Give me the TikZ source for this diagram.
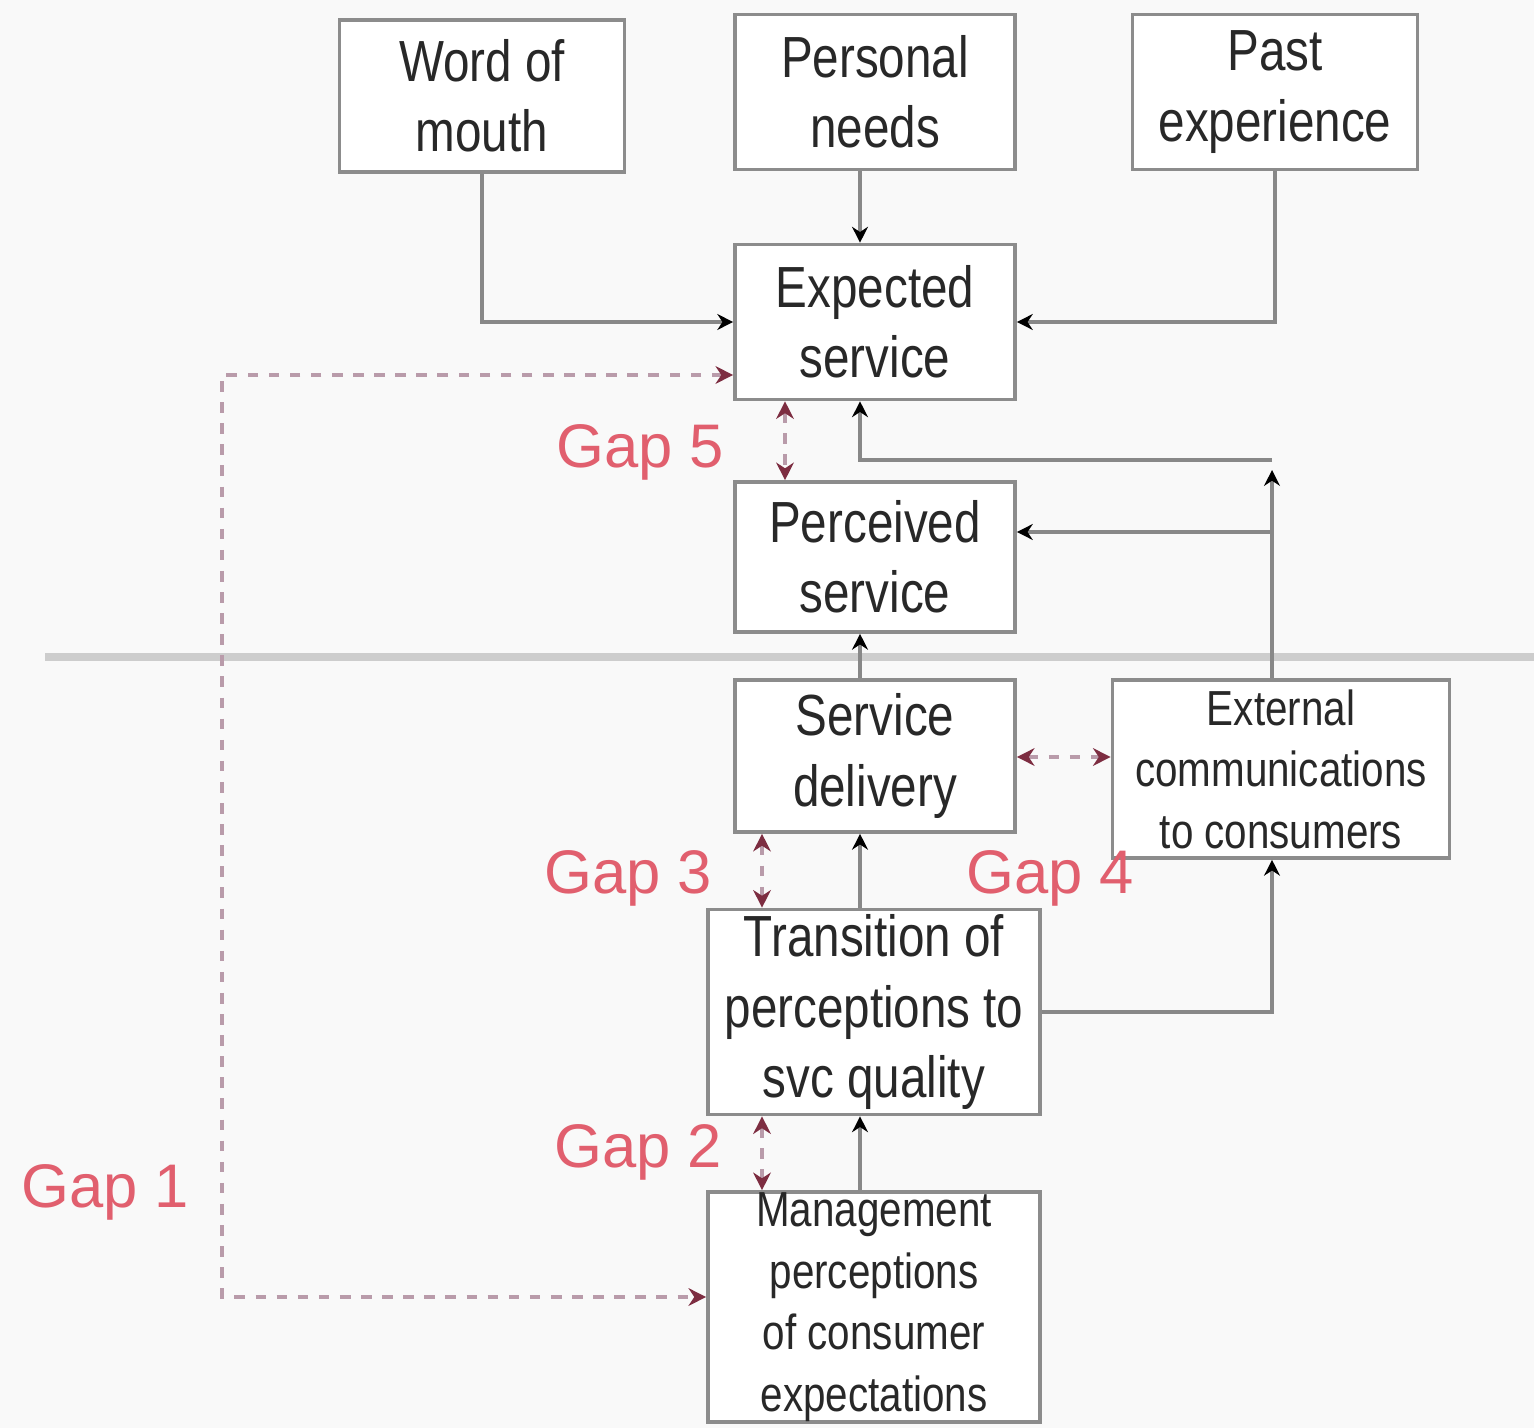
\documentclass[tikz,border=0pt]{standalone}
\usepackage{fontspec}
\setmainfont{Liberation Sans}
\newfontfamily\boxfont[FakeStretch=0.82]{Liberation Sans}
\usetikzlibrary{arrows.meta}
\definecolor{bgcol}{RGB}{249,249,249}
\definecolor{framecol}{RGB}{140,140,140}
\definecolor{linecol}{RGB}{136,136,136}
\definecolor{txtcol}{RGB}{40,40,40}
\definecolor{sepcol}{RGB}{205,205,205}
\definecolor{gapcol}{RGB}{225,95,110}
\definecolor{gapline}{RGB}{185,155,170}
\definecolor{gaptip}{RGB}{125,45,65}
\tikzset{
  box/.style={draw=framecol, line width=1pt, fill=white, align=center,
    text=txtcol, font=\boxfont\fontsize{16.5}{20}\selectfont, inner sep=0pt},
  smallbox/.style={box, font=\boxfont\fontsize{14}{17.5}\selectfont},
  conn/.style={draw=linecol, line width=1pt, -{Stealth[length=4.5pt,width=4.5pt,black]}},
  plainconn/.style={draw=linecol, line width=1pt},
  gapdash/.style={draw=gapline, line width=1pt, dash pattern=on 3pt off 3pt,
    {Stealth[length=5pt,width=5pt,gaptip]}-{Stealth[length=5pt,width=5pt,gaptip]}},
  gaplabel/.style={text=gapcol, font=\fontsize{17.5}{20}\selectfont, inner sep=0pt},
  separator/.style={draw=sepcol, line width=2.2pt}
}
\begin{document}
\begin{tikzpicture}[x=0.01cm, y=-0.01cm]
  % canvas
  \fill[bgcol] (0,0) rectangle (1534,1428);
  \useasboundingbox (0,0) rectangle (1534,1428);

  % customer / provider separator
  \draw[separator] (45,657) -- (1534,657);

  % boxes
  \node[box, minimum width=2.85cm, minimum height=1.52cm] (wom) at (482,96) {Word of\\mouth};
  \node[box, minimum width=2.80cm, minimum height=1.55cm] (pn) at (875,92) {Personal\\needs};
  \node[box, minimum width=2.85cm, minimum height=1.55cm] (pe) at (1275,92) {Past\\experience};
  \node[box, minimum width=2.80cm, minimum height=1.55cm] (es) at (875,322) {Expected\\service};
  \node[box, minimum width=2.80cm, minimum height=1.50cm] (ps) at (875,557) {Perceived\\service};
  \node[box, minimum width=2.80cm, minimum height=1.52cm] (sd) at (875,756) {Service\\delivery};
  \node[smallbox, minimum width=3.37cm, minimum height=1.78cm] (ec) at (1281,769) {External\\communications\\to consumers};
  \node[box, minimum width=3.32cm, minimum height=2.05cm] (tr) at (874,1012) {Transition of\\perceptions to\\svc quality};
  \node[smallbox, minimum width=3.32cm, minimum height=2.30cm] (mp) at (874,1307) {Management\\perceptions\\of consumer\\expectations};

  % helper coordinates for connector columns and rows
  \coordinate (cx) at (860,0);
  \coordinate (cr) at (1272,0);
  \coordinate (jtop) at (1272,460);
  \coordinate (jper) at (1272,532);
  \coordinate (g5x) at (785,0);
  \coordinate (g3x) at (762,0);
  \coordinate (g4y) at (0,757);
  \coordinate (g1a) at (222,375);
  \coordinate (g1b) at (222,1297);

  % solid connectors
  \draw[conn] (wom.south) |- (es.west);
  \draw[conn] (pn.south -| cx) -- (es.north -| cx);
  \draw[conn] (pe.south) |- (es.east);
  \draw[conn] (ec.north -| cr) -- ([yshift=-0.1cm]jtop);
  \draw[conn] (jtop) -- (jtop -| cx) -- (es.south -| cx);
  \draw[conn] (jper) -- (jper -| ps.east);
  \draw[conn] (sd.north -| cx) -- (ps.south -| cx);
  \draw[conn] (tr.north -| cx) -- (sd.south -| cx);
  \draw[conn] (mp.north -| cx) -- (tr.south -| cx);
  \draw[conn] (tr.east) -| (ec.south -| cr);

  % gap markers
  \draw[gapdash] (g1a -| es.west) -- (g1a) -- (g1b) -- (g1b -| mp.west);
  \draw[gapdash] (es.south -| g5x) -- (ps.north -| g5x);
  \draw[gapdash] (sd.south -| g3x) -- (tr.north -| g3x);
  \draw[gapdash] (tr.south -| g3x) -- (mp.north -| g3x);
  \draw[gapdash] (sd.east |- g4y) -- (ec.west |- g4y);

  % gap labels
  \node[gaplabel] (l5) at (640,452) {Gap 5};
  \node[gaplabel] (l3) at (628,878) {Gap 3};
  \node[gaplabel] (l4) at (1050,878) {Gap 4};
  \node[gaplabel] (l2) at (638,1152) {Gap 2};
  \node[gaplabel] (l1) at (105,1192) {Gap 1};
\end{tikzpicture}
\end{document}
